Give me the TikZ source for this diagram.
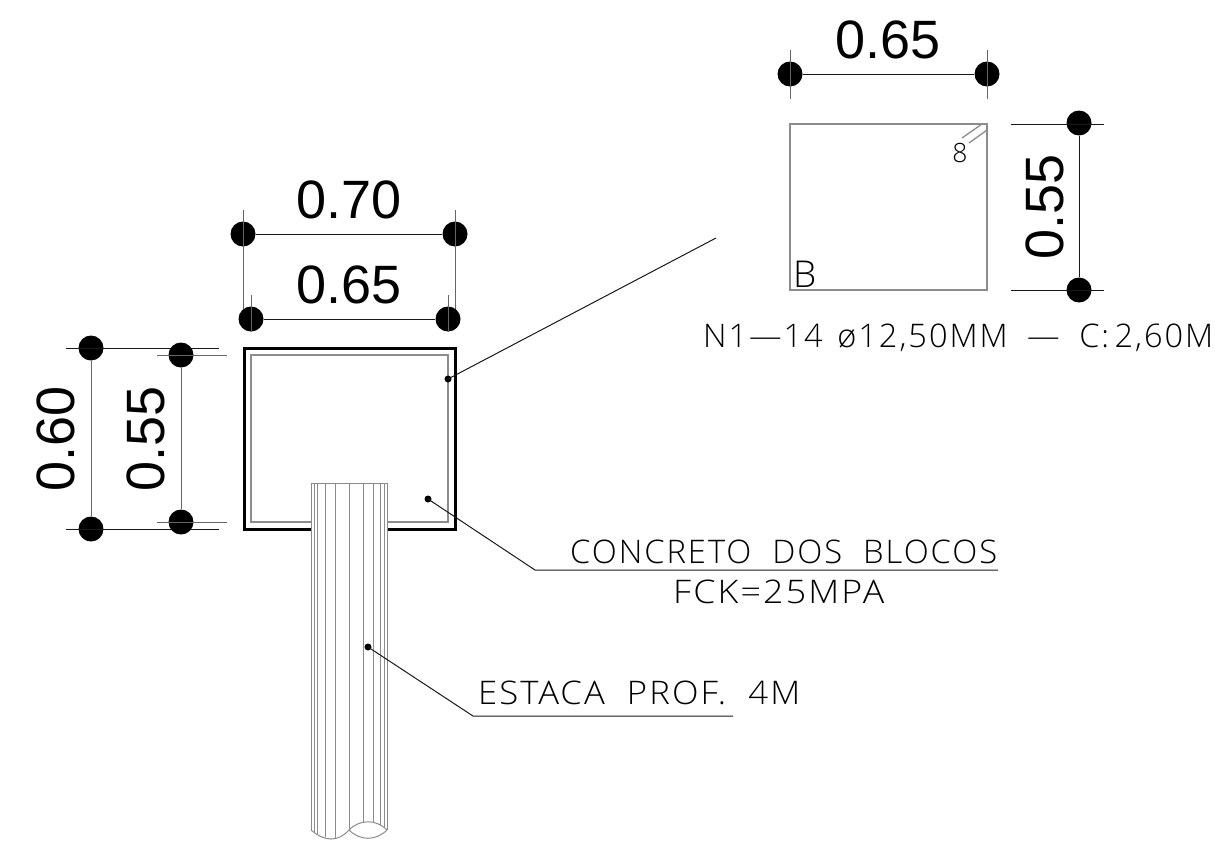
\documentclass[tikz,border=0pt]{standalone}
\usepackage{fontspec}
\usepackage{graphicx}
\setmainfont{Liberation Sans}
\newfontfamily\thinfont[LetterSpace=6,WordSpace=2]{Open Sans Light}
\newcommand{\fitw}[2]{\resizebox{#1pt}{\height}{#2}}
\tikzset{
 x=1pt,y=-1pt,
 dimdot/.style={circle,fill=black,draw=none,minimum size=25pt,inner sep=0pt},
 smalldot/.style={circle,fill=black,draw=none,minimum size=7pt,inner sep=0pt},
 blk/.style={line width=1pt,draw=black!90},
 ext/.style={line width=1pt,draw=black!60},
 gry/.style={line width=1.3pt,draw=black!45},
 pile/.style={line width=1pt,draw=black!45},
 thick3/.style={line width=3pt,draw=black},
 dimtext/.style={font=\fontsize{54}{54}\selectfont,inner sep=0pt},
 note/.style={font=\thinfont\fontsize{32.5}{33}\selectfont,inner sep=0pt,anchor=base west},
}
\begin{document}
\begin{tikzpicture}
\useasboundingbox (0,0) rectangle (1215,846);
% reinforcement detail
\draw[gry] (790,124) rectangle (987,290);
\draw[gry] (962,138) -- (982,124);
\draw[gry] (969,143) -- (987,130);
\node[note,anchor=center,font=\thinfont\fontsize{26.5}{27}\selectfont] (eight) at (960,153) {8};
\node[note,font=\thinfont\fontsize{37}{37}\selectfont] (bee) at (793,287) {B};
% top dim
\node[dimdot] (ta) at (790,74) {};
\node[dimdot] (tb) at (987,74) {};
\draw[blk] (ta) -- (tb);
\coordinate (ta1) at (790,50); \coordinate (ta2) at (790,99);
\coordinate (tb1) at (987,50); \coordinate (tb2) at (987,99);
\draw[ext] (ta1) -- (ta2) (tb1) -- (tb2);
\node[dimtext] (t65) at (888,40) {0.65};
% right dim
\node[dimdot] (ra) at (1079,123) {};
\node[dimdot] (rb) at (1079,290) {};
\draw[blk] (ra) -- (rb);
\coordinate (ra1) at (1011,124); \coordinate (ra2) at (1104,124);
\coordinate (rb1) at (1011,290); \coordinate (rb2) at (1104,290);
\draw[blk] (ra1) -- (ra2) (rb1) -- (rb2);
\node[dimtext,rotate=90] (r55) at (1045,207) {0.55};
\node[note] (bar) at (703,347) {\fitw{510}{N1—14\hspace{.45em}ø12,50MM\hspace{.6em}—\hspace{.6em}C:\,2,60M}};
% block
\draw[gry] (311,522) -- (251,522) -- (251,355) -- (448,355) -- (448,522) -- (387,522);
\draw[thick3] (311,529) -- (244,529) -- (244,348) -- (455,348) -- (455,529) -- (387,529);
% pile
\draw[pile] (311,830) -- (311,483) -- (387,483) -- (387,830);
\foreach \px/\py in {314/832,317/833.5,325/836.5,335/838,363/823,373/822.5,380/824.5,384/827}
  \draw[pile] (\px,483) -- (\px,\py);
\draw[pile] (349,483) -- (349,830);
\draw[pile] (311,830) .. controls (325,842) and (338,842) .. (349,830);
\draw[pile] (349,830) .. controls (360,819) and (376,819) .. (387,830);
\draw[pile] (349,830) .. controls (360,841) and (376,841) .. (387,830);
% block dims top
\node[dimdot] (a) at (243,234) {};
\node[dimdot] (b) at (455,234) {};
\draw[blk] (a) -- (b);
\coordinate (a1) at (243,210); \coordinate (a2) at (243,310);
\coordinate (b1) at (455,210); \coordinate (b2) at (455,310);
\draw[ext] (a1) -- (a2) (b1) -- (b2);
\node[dimtext] (t70) at (349,200) {0.70};
\node[dimdot] (c) at (251,319) {};
\node[dimdot] (d) at (448,319) {};
\draw[blk] (c) -- (d);
\coordinate (c1) at (251,295); \coordinate (c2) at (251,332);
\coordinate (d1) at (448,295); \coordinate (d2) at (448,332);
\draw[ext] (c1) -- (c2) (d1) -- (d2);
\node[dimtext] (t65b) at (349,285) {0.65};
% block dims left
\node[dimdot] (e) at (91,348) {};
\node[dimdot] (f) at (91,529) {};
\draw[ext] (e) -- (f);
\coordinate (e1) at (66,348); \coordinate (e2) at (219,348);
\coordinate (f1) at (66,529); \coordinate (f2) at (219,529);
\draw[blk] (e1) -- (e2) (f1) -- (f2);
\node[dimtext,rotate=90] (t60) at (55.5,439) {0.60};
\node[dimdot] (g) at (181,355) {};
\node[dimdot] (h) at (181,522) {};
\draw[ext] (g) -- (h);
\coordinate (g1) at (157,355); \coordinate (g2) at (227,355);
\coordinate (h1) at (157,522); \coordinate (h2) at (227,522);
\draw[ext] (g1) -- (g2) (h1) -- (h2);
\node[dimtext,rotate=90] (t55) at (146,439) {0.55};
% leaders
\node[smalldot] (p1) at (448,379) {};
\coordinate (p1e) at (716,238);
\draw[blk] (p1.center) -- (p1e);
\node[smalldot] (p2) at (428,499) {};
\coordinate (p2a) at (535,570); \coordinate (p2b) at (998,570);
\draw[blk] (p2.center) -- (p2a) -- (p2b);
\node[note] (conc) at (570,563) {\fitw{427}{CONCRETO DOS BLOCOS}};
\node[note] (fck) at (673,603) {\fitw{211}{FCK=25MPA}};
\node[smalldot] (p3) at (368,647) {};
\coordinate (p3a) at (473,716); \coordinate (p3b) at (733,716);
\draw[blk] (p3.center) -- (p3a) -- (p3b);
\node[note] (est) at (478,704) {\fitw{322}{ESTACA PROF. 4M}};
\end{tikzpicture}
\end{document}
